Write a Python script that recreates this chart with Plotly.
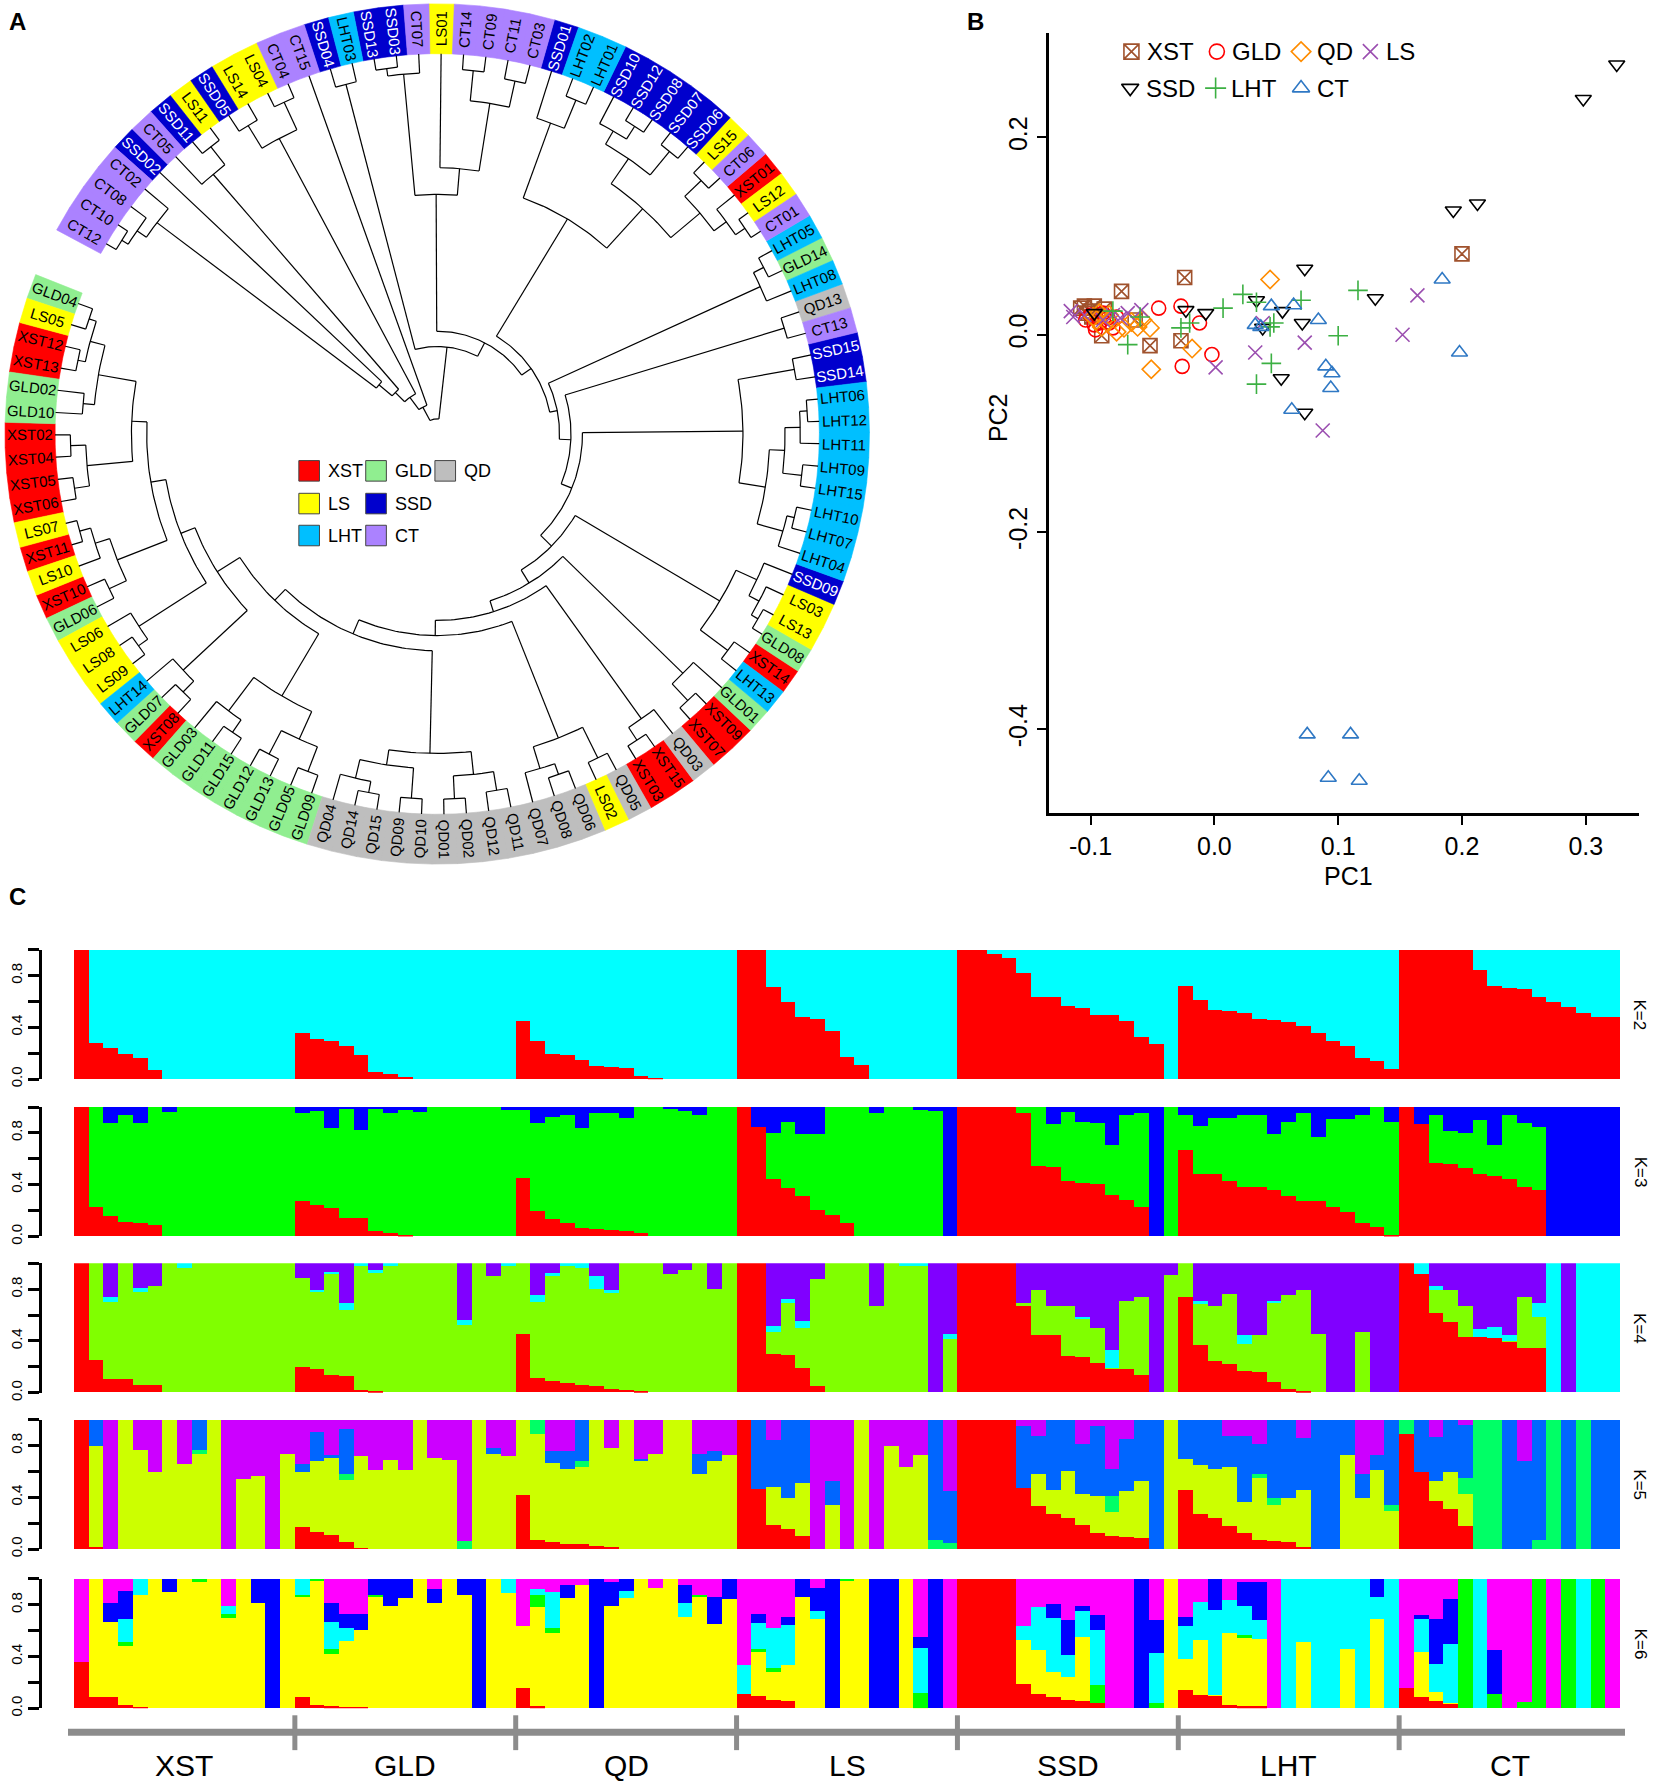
import math
import numpy as np
import plotly.graph_objects as go

W, H = 1654, 1790
NARROW = "Liberation Sans Narrow, Arial Narrow, Liberation Sans, Arial, sans-serif"
ARIAL = "Liberation Sans, Arial, sans-serif"

pops = ["XST", "GLD", "QD", "LS", "SSD", "LHT", "CT"]
ring_colors = {"XST": "#FF0000", "GLD": "#90EE90", "QD": "#BEBEBE", "LS": "#FFFF00",
               "SSD": "#0000CD", "LHT": "#00BFFF", "CT": "#AB82FF"}

# ---------------- panel A: leaf order (clockwise from CT12) and tree ----------------
leaf_order = ["CT12", "CT10", "CT08", "CT02", "SSD02", "CT05", "SSD11", "LS11", "SSD05", "LS14",
              "LS04", "CT04", "CT15", "SSD04", "LHT03", "SSD13", "SSD03", "CT07", "LS01", "CT14",
              "CT09", "CT11", "CT03", "SSD01", "LHT02", "LHT01", "SSD10", "SSD12", "SSD08", "SSD07",
              "SSD06", "LS15", "CT06", "XST01", "LS12", "CT01", "LHT05", "GLD14", "LHT08", "QD13",
              "CT13", "SSD15", "SSD14", "LHT06", "LHT12", "LHT11", "LHT09", "LHT15", "LHT10", "LHT07",
              "LHT04", "SSD09", "LS03", "LS13", "GLD08", "XST14", "LHT13", "GLD01", "XST09", "XST07",
              "QD03", "XST15", "XST03", "QD05", "LS02", "QD06", "QD08", "QD07", "QD11", "QD12",
              "QD02", "QD01", "QD10", "QD09", "QD15", "QD14", "QD04", "GLD09", "GLD05", "GLD13",
              "GLD12", "GLD15", "GLD11", "GLD03", "XST08", "GLD07", "LHT14", "LS09", "LS08", "LS06",
              "GLD06", "XST10", "LS10", "XST11", "LS07", "XST06", "XST05", "XST04", "XST02", "GLD10",
              "GLD02", "XST13", "XST12", "LS05", "GLD04"]

# clades written as newick, number after ")" = radius of the node (tips at 1)
G1 = "(((CT12,CT10)0.97,CT08)0.95,CT02)0.92"
G2 = "(CT05,(SSD11,LS11)0.96)0.9"
G3 = "((SSD05,LS14)0.95,(LS04,CT04)0.96)0.88"
G4 = "(SSD04,LHT03)0.95"
T1 = "((SSD13,SSD03)0.97,CT07)0.95"
T2 = "(LS01,((CT14,CT09)0.96,(CT11,CT03)0.95)0.88)0.7"
R1A = "(SSD01,(LHT02,LHT01)0.95)0.87"
R1B = "((SSD10,(SSD12,SSD08)0.96)0.92,(SSD07,SSD06)0.96)0.88"
R1C = "((LS15,CT06)0.96,(XST01,(LS12,CT01)0.97)0.94)0.9"
RA = "((LHT05,GLD14)0.96,LHT08)0.93"
RB = "(QD13,CT13)0.95"
RC = ("((SSD15,SSD14)0.95,((((LHT06,LHT12)0.97,LHT11)0.95,(LHT09,LHT15)0.96)0.91,"
      "((LHT10,LHT07)0.96,LHT04)0.94)0.87)0.8")
LR1 = "((SSD09,(LS03,(LS13,GLD08)0.97)0.95)0.92,(XST14,LHT13)0.95)0.86"
LR2 = "(GLD01,(XST09,XST07)0.96)0.9"
LR3 = "(QD03,(XST15,XST03)0.96)0.92"
QDA = "((QD05,LS02)0.95,((QD06,QD08)0.95,QD07)0.92)0.86"
QDB = "(((QD11,QD12)0.95,(QD02,QD01)0.96)0.9,((QD10,QD09)0.96,((QD15,QD14)0.96,QD04)0.93)0.88)0.84"
GLDC = "(((GLD09,GLD05)0.95,(GLD13,GLD12)0.95)0.88,((GLD15,GLD11)0.95,GLD03)0.91)0.8"
L1 = "((XST08,GLD07)0.95,LHT14)0.91"
L2 = "((LS09,LS08)0.96,LS06)0.93"
L3 = "((GLD06,XST10)0.95,(LS10,(XST11,LS07)0.97)0.94)0.9"
L4 = "((XST06,XST05)0.96,(XST04,XST02)0.96)0.92"
L5 = "((GLD10,GLD02)0.93,((XST13,XST12)0.96,(LS05,GLD04)0.96)0.94)0.9"

# backbone spirals clockwise from the top, radius growing at every split
LEFT = f"({L1},({L2},({L3},({L4},{L5})0.8)0.76)0.72)0.68"
N12 = f"({GLDC},{LEFT})0.61"
N11 = f"({QDB},{N12})0.57"
N10 = f"({QDA},{N11})0.53"
N9 = f"({LR3},{N10})0.49"
N8 = f"({LR2},{N9})0.46"
N7 = f"({LR1},{N8})0.42"
N6 = f"({RC},{N7})0.38"
N5 = f"({RB},{N6})0.35"
N4 = f"({RA},{N5})0.32"
N3 = f"(({R1A},({R1B},{R1C})0.8)0.66,{N4})0.3"
N2 = f"(({T1},{T2})0.63,{N3})0.27"
N1 = f"({G4},{N2})0.23"
UL = f"(((({G1},SSD02)0.2,{G2})0.155,{G3})0.12,CT15)0.08"
TREE = f"({UL},{N1})0.04"

# ---------------- panel B: PCA ----------------
pc1_xst = [0.200, -0.024, -0.075, -0.027, -0.052, -0.091, -0.064, -0.105, -0.097, -0.108, -0.100, -0.094, -0.103, -0.099, -0.089]
pc2_xst = [0.082, 0.058, 0.044, -0.006, -0.011, -0.001, 0.015, 0.029, 0.029, 0.027, 0.024, 0.020, 0.022, 0.018, 0.026]
pc1_gld = [-0.045, -0.027, -0.012, -0.002, -0.026, -0.096, -0.104, -0.086, -0.082, -0.100, -0.093, -0.090, -0.097, -0.085, -0.079]
pc2_gld = [0.027, 0.029, 0.012, -0.020, -0.032, 0.005, 0.015, 0.017, 0.007, 0.020, 0.012, 0.022, 0.010, 0.012, 0.018]
pc1_qd = [0.045, -0.018, -0.051, -0.052, -0.062, -0.073, -0.079, -0.098, -0.095, -0.091, -0.085, -0.087, -0.067, -0.058, -0.093]
pc2_qd = [0.056, -0.014, -0.035, 0.007, 0.008, 0.007, 0.003, 0.018, 0.015, 0.008, 0.020, 0.013, 0.013, 0.015, 0.022]
pc1_ls = [-0.116, -0.114, -0.070, -0.059, 0.164, 0.152, 0.073, 0.033, 0.001, 0.0875, 0.039, -0.082, -0.090, -0.105, -0.076]
pc2_ls = [0.024, 0.018, 0.022, 0.025, 0.040, 0.000, -0.008, -0.018, -0.033, -0.097, 0.012, 0.020, 0.015, 0.020, 0.017]
pc1_ssd = [0.325, 0.298, 0.2125, 0.193, 0.073, 0.130, 0.034, -0.023, -0.007, 0.055, 0.071, 0.039, 0.054, 0.073, -0.097]
pc2_ssd = [0.274, 0.239, 0.133, 0.126, 0.067, 0.037, 0.035, 0.025, 0.022, 0.024, 0.012, 0.007, -0.044, -0.079, 0.022]
pc1_lht = [0.023, 0.007, 0.070, 0.034, -0.020, -0.027, 0.048, 0.045, 0.116, 0.100, -0.070, 0.046, 0.034, -0.082, -0.060]
pc2_lht = [0.041, 0.027, 0.035, 0.033, 0.012, 0.007, 0.012, 0.008, 0.045, -0.001, -0.010, -0.029, -0.050, 0.024, 0.018]
pc1_ct = [0.075, 0.110, 0.092, 0.117, 0.184, 0.198, 0.046, 0.064, 0.084, 0.033, 0.0375, 0.090, 0.095, 0.094, 0.0625]
pc2_ct = [-0.405, -0.405, -0.449, -0.452, 0.056, -0.018, 0.029, 0.030, 0.015, 0.010, 0.008, -0.032, -0.039, -0.054, -0.076]

# ---------------- panel C: admixture proportions (pop order XST GLD QD LS SSD LHT CT) ----------------
k2_red = [1.0, 0.28, 0.24, 0.20, 0.165, 0.07, 0, 0, 0, 0, 0, 0, 0, 0, 0,
          0.36, 0.31, 0.30, 0.26, 0.185, 0.06, 0.04, 0.02, 0, 0, 0, 0, 0, 0, 0,
          0.45, 0.30, 0.20, 0.19, 0.15, 0.10, 0.095, 0.09, 0.03, 0.01, 0, 0, 0, 0, 0,
          1.0, 1.0, 0.715, 0.60, 0.48, 0.465, 0.375, 0.17, 0.11, 0, 0, 0, 0, 0, 0,
          1.0, 1.0, 0.97, 0.935, 0.82, 0.64, 0.64, 0.57, 0.55, 0.50, 0.50, 0.455, 0.33, 0.27, 0,
          0.72, 0.61, 0.54, 0.53, 0.51, 0.47, 0.46, 0.445, 0.415, 0.36, 0.30, 0.26, 0.165, 0.14, 0.077,
          1, 1, 1, 1, 1, 0.845, 0.72, 0.71, 0.70, 0.64, 0.60, 0.56, 0.51, 0.48, 0.48]

k3_red = [1.0, 0.23, 0.16, 0.115, 0.10, 0.09, 0, 0, 0, 0, 0, 0, 0, 0, 0,
          0.27, 0.24, 0.22, 0.145, 0.145, 0.04, 0.03, 0.01, 0, 0, 0, 0, 0, 0, 0,
          0.45, 0.20, 0.135, 0.10, 0.065, 0.06, 0.05, 0.04, 0.03, 0, 0, 0, 0, 0, 0,
          1.0, 0.845, 0.44, 0.375, 0.315, 0.205, 0.165, 0.105, 0, 0, 0, 0, 0, 0, 0,
          1, 1, 1, 1, 0.95, 0.545, 0.54, 0.43, 0.415, 0.405, 0.32, 0.28, 0.225, 0, 0,
          0.665, 0.48, 0.48, 0.43, 0.385, 0.385, 0.36, 0.315, 0.275, 0.27, 0.225, 0.185, 0.105, 0.07, 0.01,
          1, 0.865, 0.57, 0.56, 0.53, 0.485, 0.465, 0.445, 0.38, 0.36, 0, 0, 0, 0, 0]
k3_blue = [0, 0, 0.125, 0.06, 0.125, 0, 0.04, 0, 0, 0, 0, 0, 0, 0, 0,
           0.045, 0.03, 0.165, 0.01, 0.18, 0.01, 0.045, 0.025, 0.04, 0, 0, 0, 0, 0, 0.02,
           0.02, 0.125, 0.08, 0.06, 0.16, 0.05, 0.05, 0.085, 0, 0, 0.01, 0.03, 0.06, 0, 0,
           0, 0.155, 0.2, 0.115, 0.21, 0.21, 0, 0, 0, 0.045, 0, 0, 0.02, 0.03, 1.0,
           0, 0, 0, 0, 0, 0, 0.135, 0.04, 0.115, 0.125, 0.295, 0.065, 0.05, 1.0, 0,
           0.065, 0.145, 0.085, 0.085, 0.065, 0.065, 0.21, 0.115, 0.045, 0.23, 0.095, 0.095, 0.065, 0, 0.115,
           0, 0.135, 0.065, 0.185, 0.2, 0.10, 0.295, 0.065, 0.125, 0.155, 1, 1, 1, 1, 1]

k4_red = [1, 0.25, 0.10, 0.10, 0.06, 0.06, 0, 0, 0, 0, 0, 0, 0, 0, 0,
          0.20, 0.18, 0.135, 0.125, 0.02, 0.01, 0, 0, 0, 0, 0, 0, 0, 0, 0,
          0.455, 0.11, 0.09, 0.075, 0.06, 0.05, 0.03, 0.02, 0.01, 0, 0, 0, 0, 0, 0,
          1, 1, 0.30, 0.29, 0.185, 0.05, 0, 0, 0, 0, 0, 0, 0, 0, 0,
          1, 1, 1, 1, 0.665, 0.44, 0.44, 0.28, 0.27, 0.23, 0.185, 0.18, 0.135, 0, 0,
          0.74, 0.37, 0.24, 0.22, 0.165, 0.16, 0.08, 0.03, 0.01, 0, 0, 0, 0, 0, 0,
          1, 0.915, 0.61, 0.545, 0.43, 0.43, 0.42, 0.395, 0.34, 0.34, 0, 0, 0, 0, 0]
k4_cyan = [0, 0, 0.04, 0, 0.035, 0, 0, 0.035, 0, 0, 0, 0, 0, 0, 0,
           0, 0.01, 0.015, 0.055, 0.025, 0.02, 0.025, 0, 0, 0, 0, 0.04, 0, 0, 0.025,
           0, 0.055, 0.02, 0.02, 0.04, 0.10, 0.02, 0, 0, 0, 0, 0, 0, 0, 0,
           0, 0, 0.04, 0.03, 0.05, 0, 0, 0, 0, 0, 0, 0.025, 0.025, 0, 0.045,
           0, 0, 0, 0, 0, 0, 0, 0, 0.01, 0, 0.14, 0, 0, 0, 0,
           0, 0.02, 0, 0, 0.065, 0, 0.02, 0, 0, 0, 0, 0, 0, 0, 0,
           0, 0.085, 0.03, 0, 0, 0.06, 0.085, 0.04, 0, 0.11, 1, 0, 1, 1, 1]
k4_purple = [0, 0, 0.26, 0, 0.19, 0.18, 0, 0, 0, 0, 0, 0, 0, 0, 0,
             0.115, 0.21, 0.07, 0.31, 0, 0.055, 0, 0, 0, 0, 0, 0.44, 0, 0.10, 0,
             0, 0.25, 0.08, 0, 0, 0.10, 0.21, 0, 0, 0, 0.085, 0.055, 0, 0.20, 0,
             0, 0, 0.49, 0.28, 0.45, 0.12, 0, 0, 0, 0.335, 0, 0, 0, 1.0, 0.545,
             0, 0, 0, 0, 0.31, 0.21, 0.335, 0.335, 0.42, 0.50, 0.67, 0.29, 0.26, 1.0, 0.09,
             0, 0.295, 0.335, 0.24, 0.56, 0.56, 0.29, 0.245, 0.21, 0.545, 1, 1, 0.535, 1, 1,
             0, 0, 0.175, 0.205, 0.33, 0.51, 0.495, 0.56, 0.265, 0.31, 0, 1, 0, 0, 0]

k5_red = [1, 0.015, 0, 0, 0, 0, 0, 0, 0, 0, 0, 0, 0, 0, 0,
          0.17, 0.135, 0.11, 0.055, 0.01, 0, 0, 0, 0, 0, 0, 0, 0, 0, 0,
          0.42, 0.075, 0.055, 0.045, 0.04, 0.03, 0.02, 0, 0, 0, 0, 0, 0, 0, 0,
          1, 0.47, 0.19, 0.16, 0.105, 0, 0, 0, 0, 0, 0, 0, 0, 0, 0,
          1, 1, 1, 1, 0.475, 0.335, 0.275, 0.245, 0.19, 0.13, 0.105, 0.095, 0.085, 0, 0,
          0.46, 0.275, 0.245, 0.18, 0.13, 0.075, 0.065, 0.055, 0.015, 0, 0, 0, 0, 0, 0,
          0.89, 0.60, 0.375, 0.31, 0.18, 0, 0, 0, 0, 0, 0, 0, 0, 0, 0]
k5_sgreen = [0, 0, 0, 0, 0, 0, 0, 0, 0.025, 0, 0, 0, 0, 0, 0,
             0, 0, 0, 0.045, 0, 0, 0, 0, 0, 0, 0, 0.065, 0, 0, 0,
             0, 0.11, 0, 0, 0.04, 0, 0, 0, 0, 0, 0, 0, 0, 0, 0,
             0, 0, 0, 0, 0, 0, 0, 0, 0, 0, 0, 0, 0, 0.075, 0.05,
             0, 0, 0, 0, 0, 0, 0, 0, 0, 0, 0.125, 0, 0, 0, 0,
             0, 0, 0, 0, 0, 0.03, 0.055, 0, 0, 0, 0, 0, 0, 0, 0.05,
             0.11, 0, 0, 0, 0.125, 1, 1, 0, 0, 0.075, 1, 0, 1, 0, 0]
k5_blue = [0, 0.20, 0, 0, 0, 0, 0, 0, 0.235, 0, 0, 0, 0, 0, 0,
           0.065, 0.23, 0.025, 0.345, 0, 0, 0, 0, 0, 0, 0, 0, 0, 0.045, 0,
           0, 0, 0.09, 0.14, 0.32, 0, 0, 0, 0.01, 0, 0, 0, 0.155, 0.08, 0,
           0, 0.53, 0.36, 0.60, 0.49, 0, 0.19, 0, 0, 0, 0, 0, 0, 0.925, 0.40,
           0, 0, 0, 0, 0.475, 0.295, 0.54, 0.395, 0.385, 0.54, 0.21, 0.405, 0.475, 1, 0,
           0.30, 0.35, 0.38, 0.24, 0.51, 0.23, 0.60, 0.60, 0.40, 1, 1, 0.27, 0.185, 0.115, 0.655,
           0, 0.40, 0.335, 0.40, 0.405, 0, 0, 1, 0.68, 0.925, 0, 1, 0, 1, 1]
k5_purple = [0, 0, 1, 0, 0.235, 0.40, 0, 0.34, 0, 0, 1, 0.455, 0.43, 1, 0.26,
             0.34, 0.09, 0.27, 0.07, 0.28, 0.385, 0.31, 0.39, 0, 0.29, 0.31, 0.935, 0, 0.215, 0.28,
             0, 0, 0.24, 0.24, 0, 0, 0.22, 0, 0.30, 0.26, 0, 0, 0.26, 0.24, 0.27,
             0, 0, 0.155, 0, 0, 1, 0.47, 1, 0, 1, 0.20, 0.36, 0.27, 0, 0.55,
             0, 0, 0, 0, 0.05, 0.12, 0, 0, 0.185, 0.05, 0.375, 0.145, 0, 0, 0,
             0, 0, 0, 0.125, 0.125, 0.185, 0, 0, 0.14, 0, 0, 0, 0.415, 0.27, 0,
             0, 0, 0.135, 0, 0.04, 0, 0, 0, 0.32, 0, 0, 0, 0, 0, 0]

k6_red = [0.36, 0.09, 0.085, 0.03, 0.01, 0, 0, 0, 0, 0, 0, 0, 0, 0, 0,
          0.09, 0.03, 0.015, 0.01, 0.01, 0, 0, 0, 0, 0, 0, 0, 0, 0, 0,
          0.155, 0.015, 0, 0, 0, 0, 0, 0, 0, 0, 0, 0, 0, 0, 0,
          0.115, 0.095, 0.065, 0.055, 0, 0, 0, 0, 0, 0, 0, 0, 0, 0, 0,
          1, 1, 1, 1, 0.19, 0.115, 0.085, 0.065, 0.055, 0.04, 0, 0, 0, 0, 0,
          0.14, 0.10, 0.10, 0.03, 0.015, 0.015, 0, 0, 0, 0, 0, 0, 0, 0, 0,
          0.155, 0.085, 0.06, 0.04, 0, 0, 0, 0, 0, 0, 0, 0, 0, 0, 0]
k6_green = [0, 0, 0, 0.03, 0, 0, 0, 0, 0.025, 0, 0.03, 0, 0, 0, 0,
            0.01, 0.01, 0.04, 0, 0, 0.015, 0, 0, 0, 0, 0, 0, 0, 0, 0,
            0, 0.09, 0.04, 0, 0, 0, 0, 0, 0, 0, 0, 0, 0.01, 0, 0,
            0, 0.025, 0.025, 0, 0, 0, 0, 0.015, 0, 0, 0, 0, 0.115, 0, 0,
            0, 0, 0, 0, 0, 0, 0, 0, 0, 0.14, 0, 0, 0, 0.045, 0,
            0, 0, 0, 0, 0.02, 0, 0, 0, 0, 0, 0, 0, 0, 0, 0,
            0, 0, 0, 0, 1, 0, 0.115, 0, 0.05, 1, 0, 1, 0, 1, 0]
k6_cyan = [0, 0, 0, 0.175, 0.125, 0, 0, 0, 0, 0, 0.065, 0, 0, 0, 0,
           0.125, 0, 0.21, 0.10, 0, 0, 0, 0, 0, 0, 0, 0, 0, 0, 0.11,
           0, 0.05, 0.28, 0, 0, 0, 0, 0.06, 0, 0, 0, 0.11, 0, 0, 0,
           0.22, 0.20, 0.315, 0.31, 0, 0.06, 0, 0, 0, 0, 0, 0, 0.345, 0, 0,
           0, 0, 0, 0, 0.115, 0.335, 0.415, 0.165, 0.205, 0.425, 0, 0, 0, 0.385, 0,
           0.25, 0.295, 0.655, 0.25, 0.23, 0.14, 0, 1, 0.49, 1, 1, 0.54, 1, 0.17, 1,
           0, 0.255, 0.22, 0.45, 0, 1, 0, 0, 0, 0, 0, 0, 1, 0, 0]
k6_blue = [0, 0, 0.145, 0.22, 0, 0, 0.10, 0, 0, 0, 0, 0, 0.185, 1, 0,
           0, 0, 0.145, 0.11, 0.125, 0.12, 0.205, 0.145, 0, 0.11, 0, 0.125, 1, 0, 0,
           0, 0, 0, 0.10, 0, 1, 0.185, 0.09, 0, 0, 0, 0.135, 0, 0.21, 0.155,
           0, 0.07, 0, 0.065, 0.14, 0.18, 1, 0, 0, 1, 1, 0, 0.09, 1, 0,
           0, 0, 0, 0, 0, 0, 0.11, 0.27, 0.04, 0.115, 0, 0, 1, 0.25, 0,
           0.075, 0, 0.24, 0, 0.18, 0.295, 0, 0, 0, 0, 0, 0, 0, 0.14, 0,
           0, 0.035, 0.345, 0.35, 0, 0, 0.34, 0, 0, 0, 0, 0, 0, 0, 0]
k6_magenta = [0.64, 0, 0.185, 0.09, 0, 0, 0, 0, 0, 0, 0.205, 0, 0, 0, 0,
              0, 0, 0.185, 0.27, 0.27, 0, 0, 0, 0, 0.075, 0, 0, 0, 0, 0,
              0.365, 0.075, 0.10, 0.05, 0.05, 0, 0.02, 0, 0, 0.07, 0, 0.05, 0.125, 0.14, 0,
              0.665, 0.27, 0.375, 0.29, 0, 0.07, 0, 0, 0, 0, 0, 0, 0.445, 0, 1,
              0, 0, 0, 0, 0.36, 0.215, 0.195, 0.32, 0.205, 0.28, 1, 1, 0, 0.32, 0,
              0.29, 0.18, 0, 0.165, 0.025, 0.025, 1, 0, 0, 0, 0, 0, 0, 0, 0,
              0.845, 0.275, 0.31, 0.155, 0, 0, 0.55, 1, 0.95, 0, 1, 0, 0, 0, 1]

fig = go.Figure()
annos = []
shapes = []

# ================= panel A =================
theta0, step = 150.0, 3.366          # degrees, clockwise spacing of leaves
R_IN, R_OUT = 1.0, 1.131
ang = {n: math.radians(theta0 - i * step) for i, n in enumerate(leaf_order)}


def parse(s):
    s = s.replace(" ", "")
    pos = 0

    def node():
        nonlocal pos
        if s[pos] == "(":
            pos += 1
            kids = [node()]
            while s[pos] == ",":
                pos += 1
                kids.append(node())
            pos += 1
            j = pos
            while pos < len(s) and s[pos] not in ",()":
                pos += 1
            return (kids, float(s[j:pos] or 0))
        j = pos
        while s[pos] not in ",()":
            pos += 1
        return s[j:pos]
    return node()


tx, ty = [], []


def draw(n):
    if isinstance(n, str):
        return ang[n], 1.0
    kids, r = n
    res = [draw(k) for k in kids]
    angs = [a for a, _ in res]
    for a, rc in res:
        tx.extend([r * math.cos(a), rc * math.cos(a), None])
        ty.extend([r * math.sin(a), rc * math.sin(a), None])
    lo, hi = min(angs), max(angs)
    ts = np.linspace(lo, hi, max(2, int(math.degrees(hi - lo)) + 2))
    tx.extend(list(r * np.cos(ts)) + [None])
    ty.extend(list(r * np.sin(ts)) + [None])
    return (angs[0] + angs[-1]) / 2, r


draw(parse(TREE))

# coloured ring
half = math.radians(step) / 2
for p in pops:
    xs, ys = [], []
    for n in leaf_order:
        if n.rstrip("0123456789") != p:
            continue
        a = ang[n]
        ts = np.linspace(a - half, a + half, 6)
        px = list(R_OUT * np.cos(ts)) + list(R_IN * np.cos(ts[::-1]))
        py = list(R_OUT * np.sin(ts)) + list(R_IN * np.sin(ts[::-1]))
        xs += px + [px[0], None]
        ys += py + [py[0], None]
    fig.add_trace(go.Scatter(x=xs, y=ys, mode="lines", fill="toself", fillcolor=ring_colors[p],
                             line=dict(color=ring_colors[p], width=0.6), hoverinfo="skip",
                             xaxis="x", yaxis="y"))

fig.add_trace(go.Scatter(x=tx, y=ty, mode="lines", line=dict(color="black", width=1.2),
                         hoverinfo="skip", xaxis="x", yaxis="y"))

R_MID = (R_IN + R_OUT) / 2
for n in leaf_order:
    a = ang[n]
    deg = math.degrees(a)
    rot = -deg if math.cos(a) >= 0 else 180 - deg
    annos.append(dict(x=R_MID * math.cos(a), y=R_MID * math.sin(a), xref="x", yref="y",
                      text=n, showarrow=False, textangle=rot, xanchor="center", yanchor="middle",
                      font=dict(family=NARROW, size=15,
                                color="white" if n.startswith("SSD") else "black")))

# legend of panel A
leg_a = [("XST", 0, 0), ("GLD", 1, 0), ("QD", 2, 0), ("LS", 0, 1), ("SSD", 1, 1), ("LHT", 0, 2), ("CT", 1, 2)]
col_x = [-0.335, -0.160, 0.021]
row_y = [-0.097, -0.183, -0.267]
hs = 0.027
for name, c, r in leg_a:
    cx, cy = col_x[c], row_y[r]
    shapes.append(dict(type="rect", xref="x", yref="y", x0=cx - hs, x1=cx + hs, y0=cy - hs, y1=cy + hs,
                       fillcolor=ring_colors[name], line=dict(color="#444444", width=1)))
    annos.append(dict(x=cx + hs + 0.018, y=cy, xref="x", yref="y", text=name, showarrow=False,
                      xanchor="left", yanchor="middle", font=dict(family=NARROW, size=18, color="black")))

# ================= panel B =================
pc_sets = [("XST", pc1_xst, pc2_xst, "square-x-open", "#A0522D"),
           ("GLD", pc1_gld, pc2_gld, "circle-open", "#FF0000"),
           ("QD", pc1_qd, pc2_qd, "diamond-open", "#FF8C00"),
           ("LS", pc1_ls, pc2_ls, "x-thin-open", "#9B4FB0"),
           ("SSD", pc1_ssd, pc2_ssd, "triangle-down-open", "#000000"),
           ("LHT", pc1_lht, pc2_lht, "cross-thin-open", "#3CB043"),
           ("CT", pc1_ct, pc2_ct, "triangle-up-open", "#2F78C4")]
for name, xs, ys, sym, col in pc_sets:
    fig.add_trace(go.Scatter(x=xs, y=ys, mode="markers", xaxis="x2", yaxis="y2",
                             marker=dict(symbol=sym, size=14, color=col, line=dict(color=col, width=1.6))))

leg_pos = {"XST": (-0.067, 0.287), "GLD": (0.002, 0.287), "QD": (0.070, 0.287), "LS": (0.126, 0.287),
           "SSD": (-0.068, 0.250), "LHT": (0.001, 0.250), "CT": (0.070, 0.250)}
for name, xs, ys, sym, col in pc_sets:
    lx, ly = leg_pos[name]
    fig.add_trace(go.Scatter(x=[lx], y=[ly], mode="markers", xaxis="x2", yaxis="y2",
                             marker=dict(symbol=sym, size=15, color=col, line=dict(color=col, width=1.6))))
    annos.append(dict(x=lx + 0.011, y=ly, xref="x2", yref="y2", text=name, showarrow=False,
                      xanchor="left", yanchor="middle", font=dict(family=NARROW, size=24, color="black")))

annos.append(dict(x=1348 / W, y=1 - 880 / H, xref="paper", yref="paper", text="PC1", showarrow=False,
                  xanchor="center", yanchor="middle", font=dict(family=NARROW, size=25, color="black")))
annos.append(dict(x=998 / W, y=1 - 420 / H, xref="paper", yref="paper", text="PC2", showarrow=False,
                  xanchor="center", yanchor="middle", textangle=-90,
                  font=dict(family=NARROW, size=25, color="black")))

# ================= panel C =================
rows = [("K=2", [(k2_red, "#FF0000"), (None, "#00FFFF")]),
        ("K=3", [(k3_red, "#FF0000"), (None, "#00FF00"), (k3_blue, "#0000FF")]),
        ("K=4", [(k4_red, "#FF0000"), (None, "#80FF00"), (k4_cyan, "#00FFFF"), (k4_purple, "#8000FF")]),
        ("K=5", [(k5_red, "#FF0000"), (None, "#CCFF00"), (k5_sgreen, "#00FF66"), (k5_blue, "#0066FF"),
                 (k5_purple, "#CC00FF")]),
        ("K=6", [(k6_red, "#FF0000"), (None, "#FFFF00"), (k6_green, "#00FF00"), (k6_cyan, "#00FFFF"),
                 (k6_blue, "#0000FF"), (k6_magenta, "#FF00FF")])]
row_px = [(954, 1084), (1112, 1242), (1269, 1399), (1426, 1556), (1586, 1716)]
idx = list(range(105))
layout_axes = {}
for r, (lab, comps) in enumerate(rows):
    xa, ya = f"x{r + 3}", f"y{r + 3}"
    given = [v for v, _ in comps if v is not None]
    rest = [max(0.0, 1 - sum(col[i] for col in given)) for i in idx]
    for vals, col in comps:
        fig.add_trace(go.Bar(x=idx, y=rest if vals is None else vals, width=1.0, xaxis=xa, yaxis=ya,
                             marker=dict(color=col, line=dict(width=0)), hoverinfo="skip"))
    top, bot = row_px[r]
    layout_axes[f"xaxis{r + 3}"] = dict(domain=[74 / W, 1620 / W], range=[-0.5, 104.5], visible=False,
                                         anchor=ya, fixedrange=True)
    layout_axes[f"yaxis{r + 3}"] = dict(domain=[1 - bot / H, 1 - top / H], range=[0, 1], anchor="free",
                                         position=40 / W, showline=True, linewidth=2.5, linecolor="black",
                                         ticks="outside", ticklen=11, tickwidth=2.5, tickcolor="black",
                                         tickvals=[0, 0.2, 0.4, 0.6, 0.8, 1.0],
                                         ticktext=["0.0", "", "0.4", "", "0.8", ""], tickangle=-90,
                                         tickfont=dict(family=ARIAL, size=15, color="black"),
                                         showgrid=False, zeroline=False, fixedrange=True)
    annos.append(dict(x=1640 / W, y=1 - (top + bot) / 2 / H, xref="paper", yref="paper", text=lab,
                      showarrow=False, textangle=90, xanchor="center", yanchor="middle",
                      font=dict(family=NARROW, size=17, color="black")))

# population bar under the structure plots
shapes.append(dict(type="line", xref="paper", yref="paper", x0=68 / W, x1=1625 / W,
                   y0=1 - 1740 / H, y1=1 - 1740 / H, line=dict(color="#8C8C8C", width=7)))
for k in range(1, 7):
    shapes.append(dict(type="line", xref="x3", yref="paper", x0=15 * k - 0.5, x1=15 * k - 0.5,
                       y0=1 - 1723 / H, y1=1 - 1758 / H, line=dict(color="#8C8C8C", width=5)))
for k, p in enumerate(pops):
    annos.append(dict(x=15 * k + 7, y=1 - 1773 / H, xref="x3", yref="paper", text=p, showarrow=False,
                      xanchor="center", yanchor="middle", font=dict(family=NARROW, size=30, color="black")))

# panel letters
for t, px, py in [("A", 17, 22), ("B", 975, 22), ("C", 17, 901)]:
    annos.append(dict(x=px / W, y=1 - py / H, xref="paper", yref="paper", text=f"<b>{t}</b>",
                      showarrow=False, xanchor="center", yanchor="middle",
                      font=dict(family=ARIAL, size=24, color="black")))

fig.update_layout(
    width=W, height=H, margin=dict(l=0, r=0, t=0, b=0),
    paper_bgcolor="white", plot_bgcolor="white", showlegend=False,
    barmode="stack", bargap=0,
    xaxis=dict(domain=[0.0009, 0.537], range=[-1.14, 1.18], visible=False, fixedrange=True),
    yaxis=dict(domain=[1 - 881 / H, 1.0], range=[-1.165, 1.141], visible=False, fixedrange=True),
    xaxis2=dict(domain=[1048.5 / W, 1639 / W], range=[-0.134, 0.343], anchor="y2",
                showline=True, linewidth=2.5, linecolor="black", mirror=False,
                ticks="outside", ticklen=9, tickwidth=2, tickcolor="black",
                tickvals=[-0.1, 0.0, 0.1, 0.2, 0.3], ticktext=["-0.1", "0.0", "0.1", "0.2", "0.3"],
                tickfont=dict(family=NARROW, size=25, color="black"),
                showgrid=False, zeroline=False),
    yaxis2=dict(domain=[1 - 817 / H, 1 - 33 / H], range=[-0.485, 0.306], anchor="x2",
                showline=True, linewidth=2.5, linecolor="black", mirror=False,
                ticks="outside", ticklen=9, tickwidth=2, tickcolor="black",
                tickvals=[-0.4, -0.2, 0.0, 0.2], ticktext=["-0.4", "-0.2", "0.0", "0.2"], tickangle=-90,
                tickfont=dict(family=NARROW, size=25, color="black"),
                showgrid=False, zeroline=False),
    annotations=annos, shapes=shapes,
    **layout_axes,
)

# the page body has a default 8px margin; drop it so the figure sits at the window origin
fig.write_html("out.html", config={"displayModeBar": False},
               post_script="document.body.style.margin='0';")
